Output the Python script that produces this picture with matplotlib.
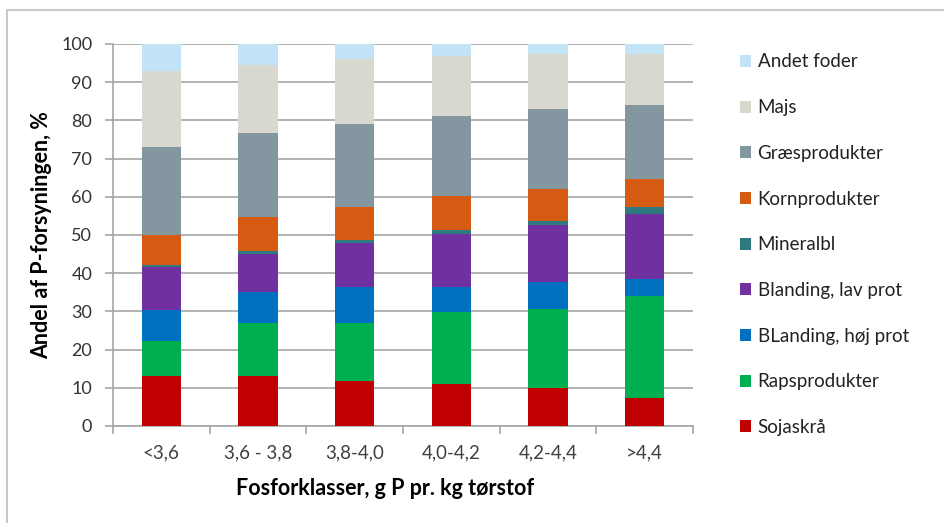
import numpy as np
import matplotlib
matplotlib.use("Agg")
import matplotlib.pyplot as plt
from matplotlib.patches import Rectangle

plt.rcParams['font.family'] = ['Lato', 'DejaVu Sans']

# Fosforklasser (g P pr. kg tørstof)
klasser = ["<3,6", "3,6 - 3,8", "3,8-4,0", "4,0-4,2", "4,2-4,4", ">4,4"]

# Andel af P-forsyningen (%) per fodertype, bottom to top
sojaskraa = [13.2, 13.2, 11.8, 10.9, 9.9, 7.4]
raps = [9.1, 13.7, 15.1, 18.9, 20.7, 26.7]
bl_hoej = [8.0, 8.2, 9.4, 6.6, 7.0, 4.4]
bl_lav = [11.3, 10.0, 11.6, 13.9, 14.9, 17.1]
mineral = [0.5, 0.7, 0.9, 1.1, 1.1, 1.7]
korn = [8.0, 9.0, 8.6, 8.8, 8.5, 7.3]
graes = [23.0, 22.0, 21.6, 21.0, 21.0, 19.4]
majs = [19.9, 17.8, 17.1, 15.7, 14.3, 13.4]
andet = [7.0, 5.4, 3.9, 3.1, 2.6, 2.6]

series = [
    ("Sojaskrå", sojaskraa, "#C00000"),
    ("Rapsprodukter", raps, "#00B050"),
    ("BLanding, høj prot", bl_hoej, "#0070C0"),
    ("Blanding, lav prot", bl_lav, "#7030A0"),
    ("Mineralbl", mineral, "#2E7A80"),
    ("Kornprodukter", korn, "#D55A12"),
    ("Græsprodukter", graes, "#8496A0"),
    ("Majs", majs, "#D8D8CE"),
    ("Andet foder", andet, "#C3E4F7"),
]

fig = plt.figure(figsize=(9.45, 5.23), dpi=100)
ax = fig.add_axes([0.1196, 0.1855, 0.6137, 0.7304])

x = np.arange(len(klasser))
bottom = np.zeros(len(klasser))
handles = []
for name, vals, col in series:
    b = ax.bar(x, vals, bottom=bottom, width=0.41, color=col, label=name, zorder=3)
    handles.append(b)
    bottom += np.array(vals)

ax.set_xlim(-0.5, len(klasser) - 0.5)
ax.set_ylim(0, 100)
ax.set_yticks(np.arange(0, 101, 10))
ax.yaxis.grid(True, color="#A6A6A6", linewidth=1.2, zorder=0)
ax.set_axisbelow(True)

# category ticks sit between the bars
ax.set_xticks(x)
ax.set_xticklabels(klasser)
ax.set_xticks(np.arange(-0.5, len(klasser), 1), minor=True)
ax.tick_params(axis="x", which="major", length=0, pad=13, labelsize=13.5, labelcolor="#404040")
ax.tick_params(axis="x", which="minor", length=6, color="#A6A6A6", width=1.2)
ax.tick_params(axis="y", length=6, color="#A6A6A6", width=1.2, labelsize=13,
               labelcolor="#333333", pad=9)

for s in ["top", "right"]:
    ax.spines[s].set_visible(False)
ax.spines["left"].set_color("#A6A6A6")
ax.spines["bottom"].set_color("#A6A6A6")
ax.spines["left"].set_linewidth(1.2)
ax.spines["bottom"].set_linewidth(1.2)

ax.set_ylabel("Andel af P-forsyningen, %", fontsize=15.5, fontweight="bold")
ax.set_xlabel("Fosforklasser, g P pr. kg tørstof", fontsize=15.5, fontweight="bold")
ax.yaxis.set_label_coords(-0.105, 0.5)
ax.xaxis.set_label_coords(0.469, -0.137)

leg = fig.legend(handles[::-1], [s[0] for s in series][::-1],
                 loc="upper left", bbox_to_anchor=(0.765, 0.93), frameon=False,
                 fontsize=13.5, labelspacing=1.53, handlelength=0.6, handleheight=0.6,
                 handletextpad=0.35)
for t in leg.get_texts():
    t.set_color("#222222")

# chart border
fig.patches.append(Rectangle((7 / 945, -0.1), 1.2, (523 - 10) / 523 + 0.1,
                             transform=fig.transFigure, fill=False,
                             edgecolor="#C8C8C8", linewidth=1.5))

fig.savefig("out.png", dpi=100)
